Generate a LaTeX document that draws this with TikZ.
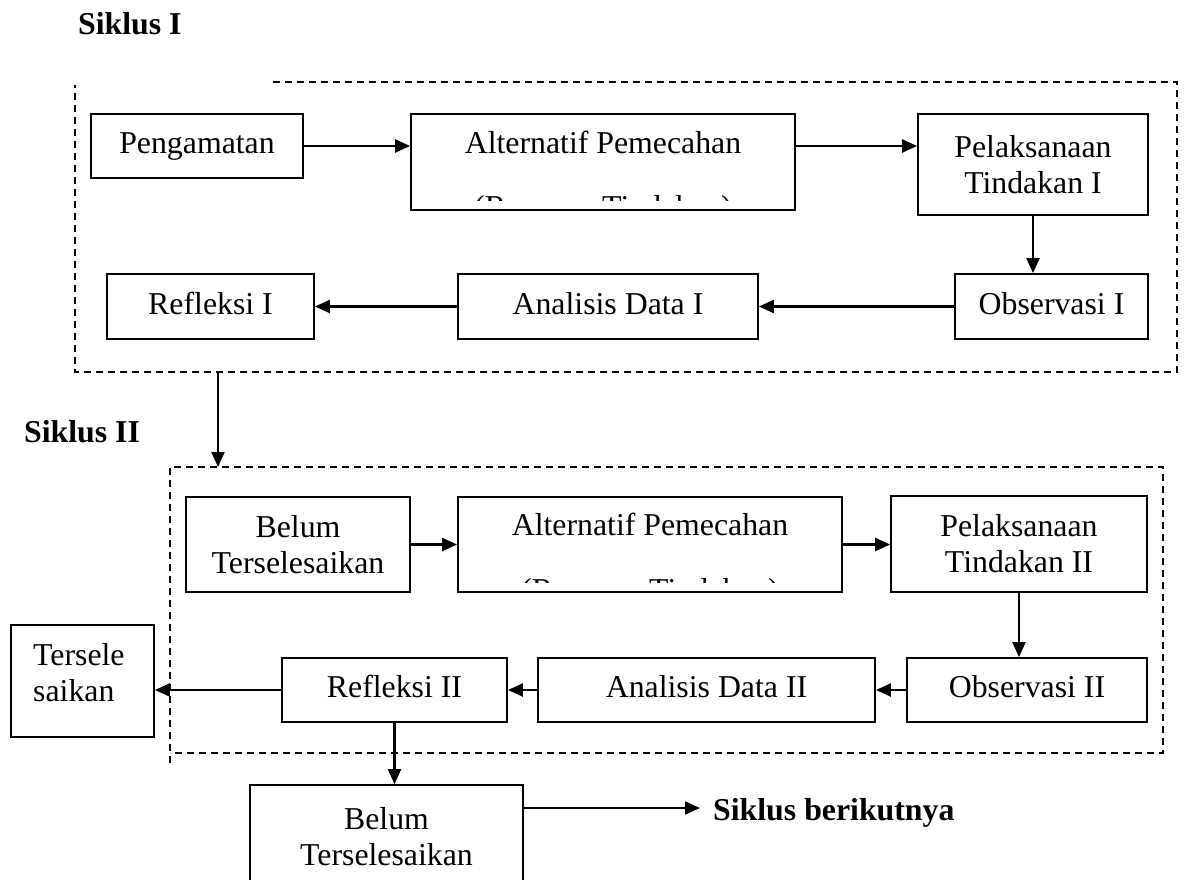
\documentclass[tikz,border=0pt]{standalone}
\usepackage{fontspec}
\setmainfont{Liberation Serif}
\usetikzlibrary{arrows.meta}
\newcommand\dfont{\fontsize{31.8}{36}\selectfont}
\begin{document}
\begin{tikzpicture}[x=1pt,y=-1pt,
  every node/.style={font=\dfont},
  box/.style={draw, line width=1.8pt, inner sep=0pt, align=center},
  one/.style={text height=22pt, text depth=7pt},
  txt/.style={inner sep=0pt},
  arr/.style={line width=2.2pt, -{Triangle[length=15pt 0,width=13pt 0]}},
  dashbox/.style={line width=1.7pt, dash pattern=on 7pt off 5pt},
  lbl/.style={font=\dfont\bfseries, anchor=base west, inner sep=0pt}]
\useasboundingbox (0,0) rectangle (1184,879);
\clip (0,0) rectangle (1184,879);

% labels
\node[lbl] (s1) at (78,34) {Siklus I};
\node[lbl] (s2) at (24,442) {Siklus II};

% ---------- Siklus I ----------
\draw[dashbox] (273,82) -- (1177,82) -- (1177,372) -- (75,372) -- (75,85);
\coordinate (f1out) at (218,372);

\node[box,one,minimum width=212pt,minimum height=64pt] (peng) at (197,146) {Pengamatan};
\node[box,minimum width=384pt,minimum height=96pt] (alt1) at (603,162) {};
\node[txt,anchor=base] (alt1a) at (603,153) {Alternatif Pemecahan};
\begin{scope}
  \clip (411,114) rectangle (795,200);
  \node[txt,anchor=base] (alt1b) at (603,217) {(Rencana Tindakan)};
\end{scope}
\node[box,minimum width=230pt,minimum height=101pt] (pel1) at (1033,164.5) {Pelaksanaan\\Tindakan I};
\node[box,one,minimum width=193pt,minimum height=65pt] (obs1) at (1051.5,306.5) {Observasi I};
\node[box,one,minimum width=300pt,minimum height=65pt] (ana1) at (608,306.5) {Analisis Data I};
\node[box,one,minimum width=207pt,minimum height=65pt] (ref1) at (210.5,306.5) {Refleksi I};

\draw[arr] (peng.east) -- (peng.east -| alt1.west);
\draw[arr] (alt1.east |- peng.east) -- (pel1.west |- peng.east);
\draw[arr] (pel1.south) -- (pel1.south |- obs1.north);
\draw[arr] (obs1.west) -- (ana1.east);
\draw[arr] (ana1.west) -- (ref1.east);

% ---------- Siklus II ----------
\draw[dashbox] (170,763) -- (170,467) -- (1163,467) -- (1163,753) -- (170,753);
\coordinate (f2in) at (218,467);
\draw[arr] (f1out) -- (f2in);

\node[box,minimum width=224pt,minimum height=95pt] (bel2) at (298,544.5) {Belum\\Terselesaikan};
\node[box,minimum width=384pt,minimum height=95pt] (alt2) at (650,544.5) {};
\node[txt,anchor=base] (alt2a) at (650,535) {Alternatif Pemecahan};
\begin{scope}
  \clip (458,497) rectangle (842,582);
  \node[txt,anchor=base] (alt2b) at (650,600) {(Rencana Tindakan)};
\end{scope}
\node[box,minimum width=256pt,minimum height=96pt] (pel2) at (1019,544) {Pelaksanaan\\Tindakan II};
\node[box,one,minimum width=240pt,minimum height=64pt] (obs2) at (1027,690) {Observasi II};
\node[box,one,minimum width=337pt,minimum height=64pt] (ana2) at (706.5,690) {Analisis Data II};
\node[box,one,minimum width=225pt,minimum height=64pt] (ref2) at (394.5,690) {Refleksi II};
\node[box,minimum width=143pt,minimum height=112pt] (ters) at (82.5,681) {};
\node[txt,anchor=north west,align=left] (tersT) at (33,643.5) {Tersele\\saikan};
\node[box,minimum width=273pt,minimum height=110pt] (bel3) at (386.5,840) {};
\node[txt,anchor=north,align=center] (bel3T) at (386.5,807.5) {Belum\\Terselesaikan};
\node[lbl] (sb) at (713,820) {Siklus berikutnya};
\coordinate (sbin) at (700,808);

\draw[arr] (bel2.east) -- (alt2.west);
\draw[arr] (alt2.east) -- (alt2.east -| pel2.west);
\draw[arr] (pel2.south) -- (pel2.south |- obs2.north);
\draw[arr] (obs2.west) -- (ana2.east);
\draw[arr] (ana2.west) -- (ref2.east);
\draw[arr] (ref2.west) -- (ref2.west -| ters.east);
\draw[arr] (ref2.south) -- (ref2.south |- bel3.north);
\draw[arr] (sbin -| bel3.east) -- (sbin);
\end{tikzpicture}
\end{document}
